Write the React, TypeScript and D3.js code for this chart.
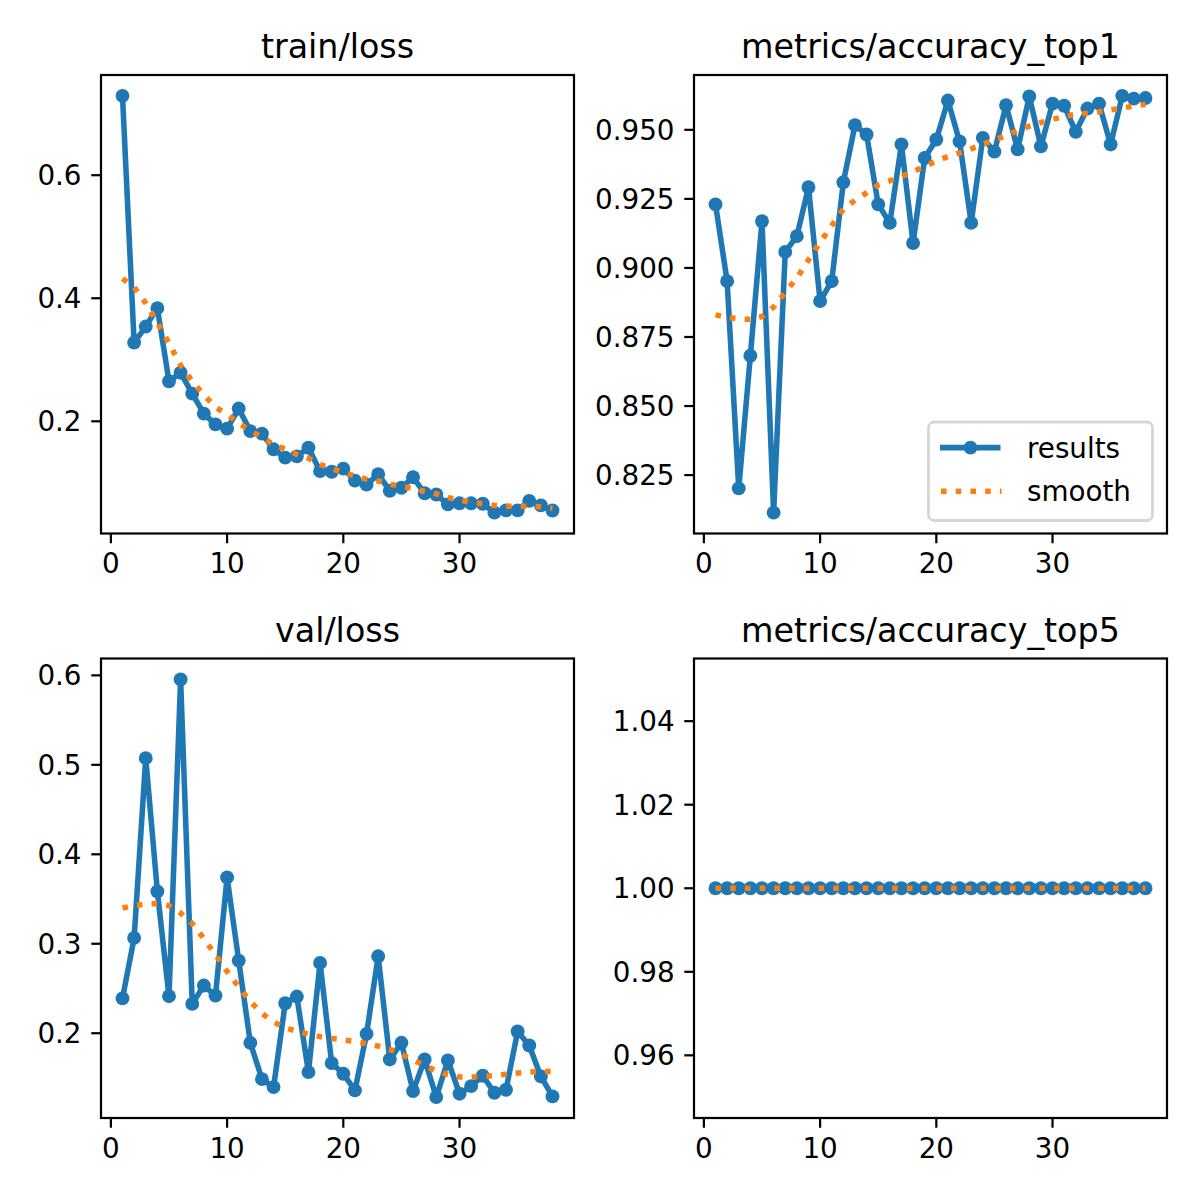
import React from "react";
import * as d3 from "d3";

// Training run metrics, one value per epoch
const EPOCHS = [
  1, 2, 3, 4, 5, 6, 7, 8, 9, 10, 11, 12, 13, 14, 15, 16, 17, 18, 19, 20,
  21, 22, 23, 24, 25, 26, 27, 28, 29, 30, 31, 32, 33, 34, 35, 36, 37, 38,
];

const TRAIN_LOSS = [
  0.729, 0.328, 0.354, 0.384, 0.265, 0.279, 0.245, 0.2125, 0.195, 0.188,
  0.2207, 0.184, 0.18, 0.1545, 0.141, 0.143, 0.157, 0.119, 0.118, 0.123,
  0.1036, 0.097, 0.114, 0.087, 0.092, 0.109, 0.083, 0.081, 0.065, 0.0667,
  0.0667, 0.066, 0.0515, 0.0553, 0.0553, 0.0706, 0.0634, 0.055,
];
const TRAIN_LOSS_SMOOTH = [
  0.432, 0.418, 0.392, 0.36, 0.327, 0.291, 0.265, 0.243, 0.223, 0.211,
  0.197, 0.185, 0.174, 0.162, 0.155, 0.146, 0.14, 0.13, 0.123, 0.117,
  0.111, 0.106, 0.103, 0.098, 0.094, 0.091, 0.086, 0.082, 0.076, 0.072,
  0.068, 0.066, 0.063, 0.062, 0.062, 0.062, 0.061, 0.059,
];

const TOP1 = [
  0.923, 0.8952, 0.8202, 0.8682, 0.9169, 0.8114, 0.9058, 0.9115, 0.9292, 0.888,
  0.8952, 0.931, 0.9517, 0.9483, 0.923, 0.9163, 0.9447, 0.909, 0.9398, 0.9465,
  0.9606, 0.9458, 0.9163, 0.9471, 0.9421, 0.9589, 0.9429, 0.9621, 0.944, 0.9595,
  0.9587, 0.9493, 0.9577, 0.9595, 0.9447, 0.9623, 0.9613, 0.9615,
];
const TOP1_SMOOTH = [
  0.883, 0.8822, 0.8815, 0.8814, 0.8824, 0.8858, 0.8912, 0.8963, 0.9029, 0.9092,
  0.9153, 0.9212, 0.9245, 0.9272, 0.93, 0.9315, 0.9331, 0.9348, 0.9368, 0.9387,
  0.9403, 0.9416, 0.9431, 0.9447, 0.9463, 0.948, 0.9497, 0.9513, 0.9526, 0.9538,
  0.9548, 0.9556, 0.956, 0.9565, 0.9572, 0.9579, 0.9586, 0.9592,
];

const VAL_LOSS = [
  0.239, 0.3065, 0.5074, 0.3586, 0.2414, 0.5955, 0.2328, 0.2533, 0.2421, 0.3742,
  0.2812, 0.1893, 0.1487, 0.1398, 0.2335, 0.241, 0.1566, 0.2786, 0.1666, 0.1547,
  0.1361, 0.1993, 0.286, 0.1707, 0.1893, 0.1353, 0.1707, 0.1286, 0.1696, 0.1324,
  0.1409, 0.1525, 0.1335, 0.1368, 0.2019, 0.1863, 0.1517, 0.1294,
];
const VAL_LOSS_SMOOTH = [
  0.34, 0.3427, 0.3445, 0.3448, 0.3425, 0.3343, 0.3226, 0.3058, 0.2878, 0.269,
  0.2517, 0.2355, 0.2221, 0.2125, 0.2061, 0.2022, 0.1991, 0.1962, 0.1941, 0.1927,
  0.1907, 0.1885, 0.1856, 0.182, 0.1766, 0.1703, 0.1637, 0.158, 0.1537, 0.151,
  0.151, 0.1516, 0.1528, 0.1542, 0.1556, 0.1566, 0.1571, 0.1574,
];

const TOP5 = [
  1, 1, 1, 1, 1, 1, 1, 1, 1, 1, 1, 1, 1, 1, 1, 1, 1, 1, 1, 1,
  1, 1, 1, 1, 1, 1, 1, 1, 1, 1, 1, 1, 1, 1, 1, 1, 1, 1,
];
const TOP5_SMOOTH = [
  1, 1, 1, 1, 1, 1, 1, 1, 1, 1, 1, 1, 1, 1, 1, 1, 1, 1, 1, 1,
  1, 1, 1, 1, 1, 1, 1, 1, 1, 1, 1, 1, 1, 1, 1, 1, 1, 1,
];

// Tick values
const X_TICKS = [0, 10, 20, 30];
const TRAIN_LOSS_TICKS = [0.2, 0.4, 0.6];
const TOP1_TICKS = [0.825, 0.85, 0.875, 0.9, 0.925, 0.95];
const VAL_LOSS_TICKS = [0.2, 0.3, 0.4, 0.5, 0.6];
const TOP5_TICKS = [0.96, 0.98, 1.0, 1.02, 1.04];

const LEGEND_LABELS = ["results", "smooth"];

const BLUE = "#1f77b4";
const ORANGE = "#ff7f0e";
const FONT = "'DejaVu Sans', 'Liberation Sans', sans-serif";
const PT = 200 / 72;
const MARKER_R = 2.5 * PT;

type Panel = {
  title: string;
  values: number[];
  smooth: number[];
  yTicks: number[];
  fmt: string;
  x0: number;
  x1: number;
  y0: number;
  y1: number;
  fixedDomain?: [number, number];
  legend?: boolean;
};

const COL_L: [number, number] = [101, 574];
const COL_R: [number, number] = [694, 1167];
const ROW_T: [number, number] = [75, 533.5];
const ROW_B: [number, number] = [658.5, 1118];

const PANELS: Panel[] = [
  { title: "train/loss", values: TRAIN_LOSS, smooth: TRAIN_LOSS_SMOOTH, yTicks: TRAIN_LOSS_TICKS, fmt: ".1f", x0: COL_L[0], x1: COL_L[1], y0: ROW_T[0], y1: ROW_T[1] },
  { title: "metrics/accuracy_top1", values: TOP1, smooth: TOP1_SMOOTH, yTicks: TOP1_TICKS, fmt: ".3f", x0: COL_R[0], x1: COL_R[1], y0: ROW_T[0], y1: ROW_T[1], legend: true },
  { title: "val/loss", values: VAL_LOSS, smooth: VAL_LOSS_SMOOTH, yTicks: VAL_LOSS_TICKS, fmt: ".1f", x0: COL_L[0], x1: COL_L[1], y0: ROW_B[0], y1: ROW_B[1] },
  { title: "metrics/accuracy_top5", values: TOP5, smooth: TOP5_SMOOTH, yTicks: TOP5_TICKS, fmt: ".2f", x0: COL_R[0], x1: COL_R[1], y0: ROW_B[0], y1: ROW_B[1], fixedDomain: [0.945, 1.055] },
];

function padded(lo: number, hi: number): [number, number] {
  const m = (hi - lo) * 0.05;
  return [lo - m, hi + m];
}

function PanelView({ p }: { p: Panel }) {
  const xDom = padded(d3.min(EPOCHS)!, d3.max(EPOCHS)!);
  const x = d3.scaleLinear().domain(xDom).range([p.x0, p.x1]);
  const all = p.values.concat(p.smooth);
  const yDom = p.fixedDomain ?? padded(d3.min(all)!, d3.max(all)!);
  const y = d3.scaleLinear().domain(yDom).range([p.y1, p.y0]);

  const line = d3
    .line<number>()
    .x((_, i) => x(EPOCHS[i]))
    .y((d) => y(d));

  const fmt = d3.format(p.fmt);
  const tickLen = 3.5 * PT;
  const pad = 3.5 * PT;
  const fs = 10 * PT;
  const lw = 2 * PT;

  const lgW = 224;
  const lgH = 98.5;
  const lgX = p.x1 - 14.5 - lgW;
  const lgY = p.y1 - 13 - lgH;

  return (
    <g>
      <text
        x={(p.x0 + p.x1) / 2}
        y={p.y0 - 6 * PT}
        textAnchor="middle"
        fontSize={12 * PT}
        fontFamily={FONT}
        fill="#000"
      >
        {p.title}
      </text>

      {/* x ticks */}
      {X_TICKS.map((t) => (
        <g key={"x" + t}>
          <line x1={x(t)} x2={x(t)} y1={p.y1} y2={p.y1 + tickLen} stroke="#000" strokeWidth={0.8 * PT} />
          <text
            x={x(t)}
            y={p.y1 + tickLen + pad + 0.729 * fs}
            textAnchor="middle"
            fontSize={fs}
            fontFamily={FONT}
            fill="#000"
          >
            {t}
          </text>
        </g>
      ))}

      {/* y ticks */}
      {p.yTicks.map((t) => (
        <g key={"y" + t}>
          <line x1={p.x0 - tickLen} x2={p.x0} y1={y(t)} y2={y(t)} stroke="#000" strokeWidth={0.8 * PT} />
          <text
            x={p.x0 - tickLen - pad}
            y={y(t) + 0.3645 * fs}
            textAnchor="end"
            fontSize={fs}
            fontFamily={FONT}
            fill="#000"
          >
            {fmt(t)}
          </text>
        </g>
      ))}

      {/* results series */}
      <path
        d={line(p.values) ?? ""}
        fill="none"
        stroke={BLUE}
        strokeWidth={lw}
        strokeLinejoin="round"
        strokeLinecap="square"
      />
      {p.values.map((v, i) => (
        <circle key={"m" + i} cx={x(EPOCHS[i])} cy={y(v)} r={MARKER_R} fill={BLUE} />
      ))}

      {/* smoothed series */}
      <path
        d={line(p.smooth) ?? ""}
        fill="none"
        stroke={ORANGE}
        strokeWidth={lw}
        strokeDasharray={`${1 * lw} ${1.65 * lw}`}
        strokeLinecap="butt"
      />

      {/* frame */}
      <rect
        x={p.x0}
        y={p.y0}
        width={p.x1 - p.x0}
        height={p.y1 - p.y0}
        fill="none"
        stroke="#000"
        strokeWidth={0.8 * PT}
      />

      {p.legend && (
        <g>
          <rect
            x={lgX}
            y={lgY}
            width={lgW}
            height={lgH}
            rx={5.5}
            ry={5.5}
            fill="#fff"
            fillOpacity={0.8}
            stroke="#cccccc"
            strokeOpacity={0.8}
            strokeWidth={1 * PT}
          />
          <line
            x1={lgX + 11.5}
            x2={lgX + 72}
            y1={lgY + 25.6}
            y2={lgY + 25.6}
            stroke={BLUE}
            strokeWidth={lw}
          />
          <circle cx={lgX + 42} cy={lgY + 25.6} r={MARKER_R} fill={BLUE} />
          <text x={lgX + 98.5} y={lgY + 35.6} fontSize={fs} fontFamily={FONT} fill="#000">
            {LEGEND_LABELS[0]}
          </text>
          <line
            x1={lgX + 12.5}
            x2={lgX + 73}
            y1={lgY + 69.3}
            y2={lgY + 69.3}
            stroke={ORANGE}
            strokeWidth={lw}
            strokeDasharray={`${1 * lw} ${1.65 * lw}`}
          />
          <text x={lgX + 98.5} y={lgY + 79.3} fontSize={fs} fontFamily={FONT} fill="#000">
            {LEGEND_LABELS[1]}
          </text>
        </g>
      )}
    </g>
  );
}

export default function App() {
  return (
    <svg
      width={1200}
      height={1200}
      viewBox="0 0 1200 1200"
      style={{ position: "absolute", left: 0, top: 0, background: "#fff" }}
    >
      <rect x={0} y={0} width={1200} height={1200} fill="#fff" />
      {PANELS.map((p) => (
        <PanelView key={p.title} p={p} />
      ))}
    </svg>
  );
}
